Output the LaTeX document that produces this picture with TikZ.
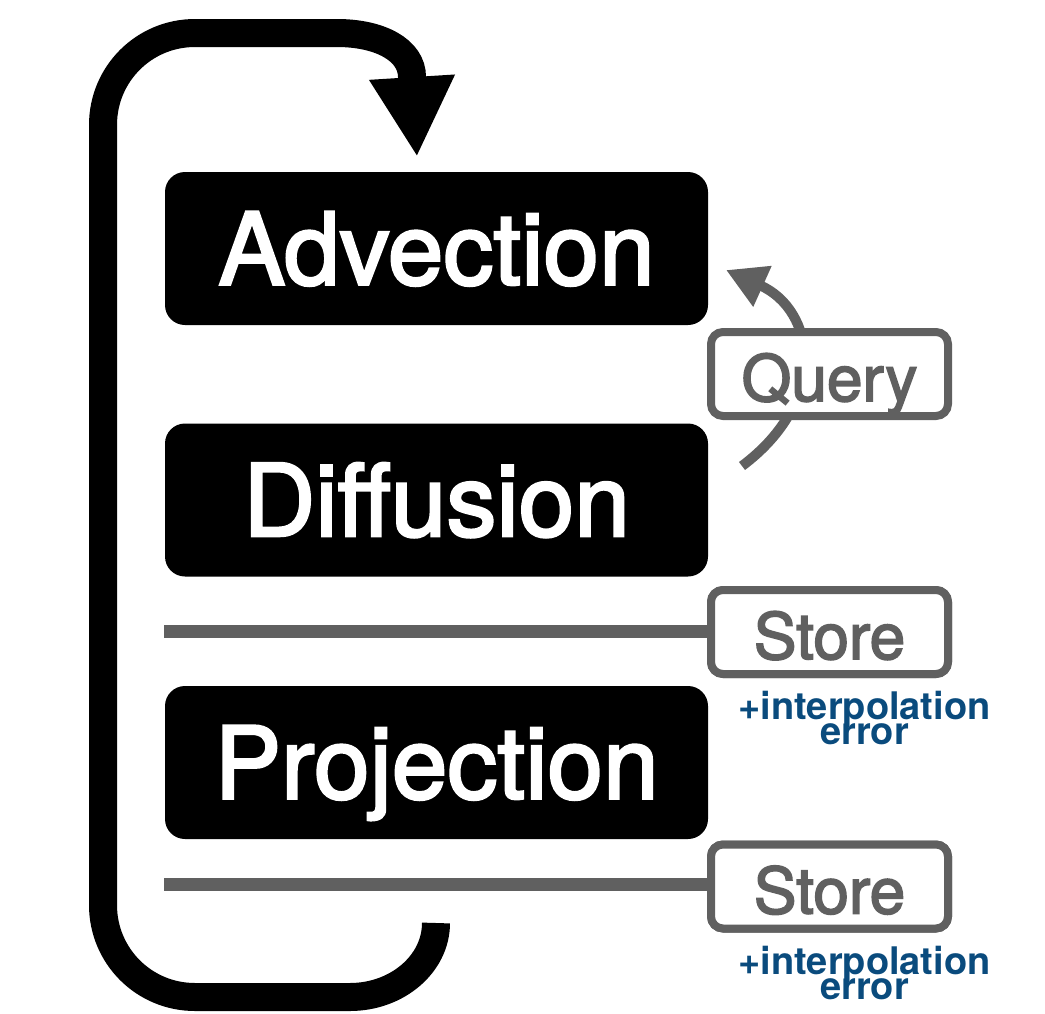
\documentclass[tikz,border=0pt]{standalone}
\usepackage{fontspec}
\setmainfont{TeX Gyre Heros}
\newfontfamily\heavyfamily[FakeBold=2.5]{TeX Gyre Heros}
\usetikzlibrary{arrows.meta}

\definecolor{wiregray}{RGB}{96,96,96}
\definecolor{errblue}{RGB}{10,75,125}

\newcommand{\stagefont}{\heavyfamily\fontsize{100}{100}\selectfont}
\newcommand{\tagfont}{\heavyfamily\fontsize{64}{64}\selectfont}
\newcommand{\errfont}{\bfseries\fontsize{38}{25}\selectfont\lineskiplimit=-50pt}

\tikzset{
  stage/.style={fill=black, rounded corners=20pt, inner sep=0pt,
    minimum width=543pt, minimum height=153pt,
    text=white, font=\stagefont, text height=72pt, text depth=0pt},
  tag/.style={draw=wiregray, line width=8pt, fill=white, rounded corners=12pt,
    inner sep=0pt, minimum width=237pt, minimum height=84pt,
    text=wiregray, font=\tagfont, text height=54pt, text depth=0pt},
  errnote/.style={text=errblue, font=\errfont, align=center, inner sep=0pt},
  wire/.style={draw=wiregray, line width=13pt},
  loopline/.style={line width=28pt, -{Triangle[length=80pt,width=80pt]}},
  queryline/.style={draw=wiregray, line width=10pt, -{Triangle[length=40pt,width=42pt]}},
}

\begin{document}
\begin{tikzpicture}[x=1pt,y=-1pt]
\useasboundingbox (0,0) rectangle (1045,1013);

% solver stages
\node[stage] (advection) at (436.5,248.5) {Advection};
\node[stage] (diffusion) at (436.5,500) {Diffusion};
\node[stage] (projection) at (436.5,762.5) {Projection};

% the time step loop
\coordinate (loopstart) at (436,923);
\coordinate (looptip) at (417,157);
\draw[loopline] (loopstart) .. controls (436,964) and (397,997) .. (350,997)
  -- (195,997) .. controls (144,997) and (103,956) .. (103,905)
  -- (103,125) .. controls (103,74) and (144,33) .. (195,33)
  -- (337,33) .. controls (380,33) and (412,50) .. (412,77) -- (looptip);

% query between diffusion and advection
\coordinate (qstart) at (742,466);
\coordinate (qtip) at (726,270);
\draw[queryline] (qstart) .. controls (830,400) and (815,310) .. (qtip);
\node[tag] (query) at (829.5,374) {Query};

% stores
\coordinate (wire1) at (164,631.5);
\coordinate (wire2) at (164,884);
\node[tag] (store1) at (829.5,632) {Store};
\node[tag] (store2) at (829.5,886.5) {Store};
\draw[wire] (wire1) -- (wire1 -| store1.west);
\draw[wire] (wire2) -- (wire2 -| store2.west);
\node[tag] at (store1) {Store};
\node[tag] at (store2) {Store};

\node[errnote] (err1) at (864.5,718) {+interpolation\\error};
\node[errnote] (err2) at (864.5,973) {+interpolation\\error};
\end{tikzpicture}
\end{document}
